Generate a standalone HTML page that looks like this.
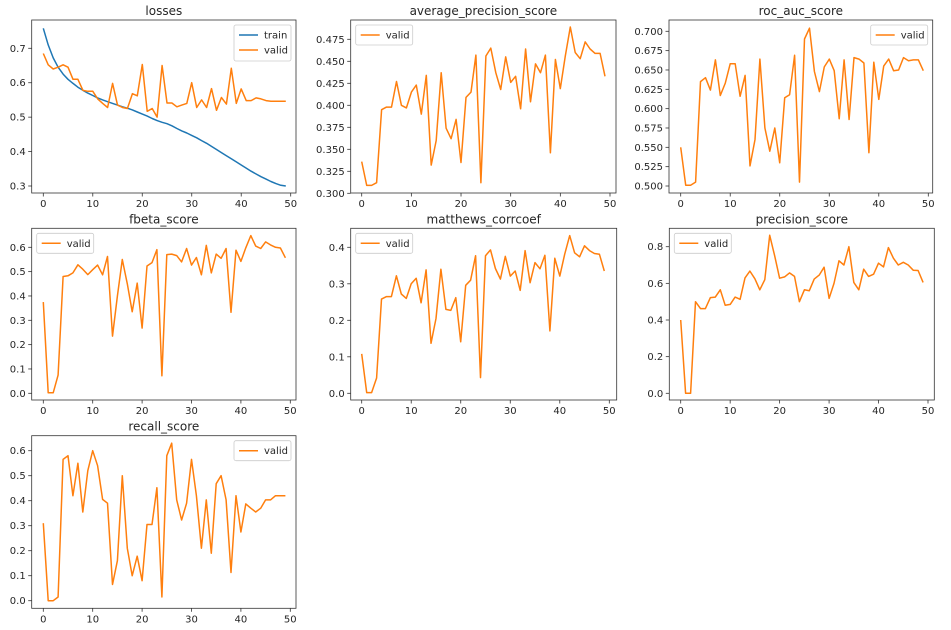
<!DOCTYPE html>
<html><head><meta charset="utf-8"><style>
html,body{margin:0;padding:0;background:#fff;width:951px;height:630px;overflow:hidden}
svg text{font-family:"DejaVu Sans","Liberation Sans",sans-serif;fill:#262626}
</style></head><body>
<svg id="s" width="951" height="630" xmlns="http://www.w3.org/2000/svg"></svg>
<script>
var train=[],i;
for(i=0;i<50;i++){var t=i/49;train.push(0.3+0.458*Math.exp(-i/3.2)*0.45+ (0.55-0.25*t - 0.0)*(1) - 0.55 + 0.0);}
train=[0.758,0.71,0.672,0.645,0.625,0.61,0.598,0.587,0.578,0.57,0.563,0.556,0.55,0.545,0.54,0.535,0.53,0.526,0.521,0.515,0.509,0.503,0.496,0.49,0.485,0.481,0.475,0.467,0.46,0.454,0.447,0.44,0.432,0.424,0.415,0.406,0.397,0.388,0.379,0.37,0.361,0.352,0.343,0.335,0.327,0.32,0.313,0.307,0.302,0.3];
var P=[
{t:"losses",L:31.7,R:296,T:20,B:193,x0:43.3,x50:290.7,ya:0.7,yap:48.3,yb:0.3,ybp:186,ticks:[0.3,0.4,0.5,0.6,0.7],dec:1,leg:"r",
 s:[{c:"#1f77b4",n:"train",d:train},{c:"#ff7f0e",n:"valid",d:[0.685,0.652,0.64,0.645,0.652,0.645,0.61,0.61,0.578,0.575,0.575,0.553,0.54,0.528,0.598,0.535,0.528,0.525,0.568,0.562,0.653,0.517,0.525,0.5,0.65,0.541,0.541,0.53,0.535,0.54,0.6,0.528,0.55,0.528,0.583,0.52,0.557,0.538,0.642,0.54,0.582,0.548,0.548,0.556,0.553,0.548,0.546,0.546,0.546,0.546]}]},
{t:"average_precision_score",L:350.7,R:616,T:20,B:193,x0:361.7,x50:610,ya:0.475,yap:39.3,yb:0.3,ybp:193.3,ticks:[0.3,0.325,0.35,0.375,0.4,0.425,0.45,0.475],dec:3,leg:"l",
 s:[{c:"#ff7f0e",n:"valid",d:[0.336,0.309,0.309,0.312,0.395,0.398,0.398,0.427,0.4,0.397,0.415,0.423,0.39,0.434,0.332,0.36,0.437,0.374,0.362,0.384,0.335,0.409,0.415,0.457,0.312,0.456,0.465,0.437,0.418,0.455,0.426,0.433,0.396,0.464,0.404,0.447,0.437,0.457,0.346,0.452,0.419,0.456,0.489,0.46,0.453,0.472,0.464,0.459,0.459,0.433]}]},
{t:"roc_auc_score",L:669,R:932.7,T:20,B:193,x0:680.7,x50:928.3,ya:0.7,yap:31.3,yb:0.5,ybp:186,ticks:[0.5,0.525,0.55,0.575,0.6,0.625,0.65,0.675,0.7],dec:3,leg:"r",
 s:[{c:"#ff7f0e",n:"valid",d:[0.55,0.501,0.501,0.505,0.635,0.64,0.624,0.663,0.617,0.633,0.658,0.658,0.616,0.643,0.526,0.56,0.664,0.575,0.545,0.575,0.53,0.614,0.618,0.669,0.505,0.69,0.704,0.648,0.622,0.654,0.664,0.649,0.587,0.663,0.586,0.666,0.664,0.659,0.543,0.66,0.612,0.655,0.664,0.649,0.65,0.666,0.662,0.663,0.663,0.649]}]},
{t:"fbeta_score",L:31.7,R:296,T:228.3,B:400,x0:43.3,x50:290.3,ya:0.6,yap:247.3,yb:0,ybp:393.3,ticks:[0,0.1,0.2,0.3,0.4,0.5,0.6],dec:1,leg:"l",
 s:[{c:"#ff7f0e",n:"valid",d:[0.375,0.002,0.002,0.075,0.48,0.483,0.495,0.528,0.51,0.488,0.508,0.527,0.487,0.562,0.235,0.4,0.55,0.45,0.335,0.453,0.268,0.523,0.537,0.59,0.072,0.57,0.572,0.566,0.54,0.595,0.527,0.558,0.487,0.608,0.495,0.572,0.555,0.595,0.333,0.588,0.542,0.598,0.648,0.605,0.595,0.622,0.61,0.6,0.597,0.557]}]},
{t:"matthews_corrcoef",L:350.7,R:616.7,T:228.3,B:400,x0:361.7,x50:609.3,ya:0.4,yap:247.3,yb:0,ybp:393.3,ticks:[0,0.1,0.2,0.3,0.4],dec:1,leg:"l",
 s:[{c:"#ff7f0e",n:"valid",d:[0.108,0.002,0.002,0.042,0.258,0.265,0.265,0.322,0.272,0.26,0.3,0.315,0.248,0.338,0.137,0.205,0.34,0.23,0.227,0.262,0.141,0.296,0.31,0.377,0.043,0.377,0.393,0.342,0.313,0.375,0.321,0.335,0.282,0.391,0.303,0.358,0.341,0.378,0.171,0.37,0.321,0.381,0.432,0.385,0.374,0.404,0.391,0.383,0.381,0.335]}]},
{t:"precision_score",L:669.3,R:934.3,T:228.3,B:400,x0:680.7,x50:928,ya:0.8,yap:246.7,yb:0,ybp:393.3,ticks:[0,0.2,0.4,0.6,0.8],dec:1,leg:"l",
 s:[{c:"#ff7f0e",n:"valid",d:[0.4,0.0,0.0,0.5,0.462,0.462,0.522,0.525,0.565,0.48,0.485,0.525,0.513,0.63,0.667,0.625,0.565,0.62,0.862,0.75,0.628,0.635,0.657,0.638,0.5,0.565,0.56,0.623,0.645,0.688,0.518,0.6,0.723,0.7,0.8,0.605,0.565,0.677,0.638,0.65,0.71,0.69,0.795,0.737,0.7,0.715,0.7,0.672,0.67,0.605]}]},
{t:"recall_score",L:31.7,R:296,T:435.7,B:608.3,x0:43.3,x50:290.3,ya:0.6,yap:450.7,yb:0,ybp:600.7,ticks:[0,0.1,0.2,0.3,0.4,0.5,0.6],dec:1,leg:"r",
 s:[{c:"#ff7f0e",n:"valid",d:[0.31,0.0,0.0,0.015,0.565,0.58,0.42,0.55,0.355,0.52,0.6,0.54,0.405,0.39,0.065,0.16,0.5,0.21,0.1,0.178,0.08,0.305,0.305,0.452,0.015,0.58,0.63,0.403,0.323,0.39,0.565,0.42,0.21,0.403,0.19,0.468,0.5,0.403,0.113,0.42,0.275,0.387,0.37,0.355,0.37,0.403,0.403,0.42,0.42,0.42]}]}
];
var h="";
P.forEach(function(p){
 var X=function(v){return p.x0+(p.x50-p.x0)*v/50};
 var Y=function(v){return p.ybp+(p.yap-p.ybp)*(v-p.yb)/(p.ya-p.yb)};
 h+='<text x="'+(p.L+p.R)/2+'" y="'+(p.T-5)+'" font-size="12" text-anchor="middle">'+p.t+'</text>';
 p.s.forEach(function(s){
  var pts=s.d.map(function(v,k){return X(k).toFixed(1)+","+Y(v).toFixed(1)}).join(" ");
  h+='<polyline points="'+pts+'" fill="none" stroke="'+s.c+'" stroke-width="1.5" stroke-linejoin="round"/>';
 });
 for(var k=0;k<=50;k+=10){var x=X(k);h+='<line x1="'+x+'" x2="'+x+'" y1="'+p.B+'" y2="'+(p.B+3.5)+'" stroke="#333" stroke-width="0.8"/><text x="'+x+'" y="'+(p.B+14)+'" font-size="10" text-anchor="middle">'+k+'</text>';}
 p.ticks.forEach(function(v){var y=Y(v);h+='<line x1="'+(p.L-3.5)+'" x2="'+p.L+'" y1="'+y+'" y2="'+y+'" stroke="#333" stroke-width="0.8"/><text x="'+(p.L-6)+'" y="'+(y+3.5)+'" font-size="10" text-anchor="end">'+v.toFixed(p.dec)+'</text>';});
 h+='<rect x="'+p.L+'" y="'+p.T+'" width="'+(p.R-p.L)+'" height="'+(p.B-p.T)+'" fill="none" stroke="#333" stroke-width="0.8"/>';
 var n=p.s.length,w=57,hh=n==2?36:20,lx=p.leg=="r"?p.R-5-w:p.L+5,ly=p.T+5;
 h+='<rect x="'+lx+'" y="'+ly+'" width="'+w+'" height="'+hh+'" rx="2" fill="#fff" fill-opacity="0.8" stroke="#ccc" stroke-width="0.8"/>';
 p.s.forEach(function(s,j){var yy=ly+10+j*15;h+='<line x1="'+(lx+5)+'" x2="'+(lx+24)+'" y1="'+yy+'" y2="'+yy+'" stroke="'+s.c+'" stroke-width="1.5"/><text x="'+(lx+30)+'" y="'+(yy+3.5)+'" font-size="10">'+s.n+'</text>';});
});
document.getElementById("s").innerHTML=h;
</script>
</body></html>
